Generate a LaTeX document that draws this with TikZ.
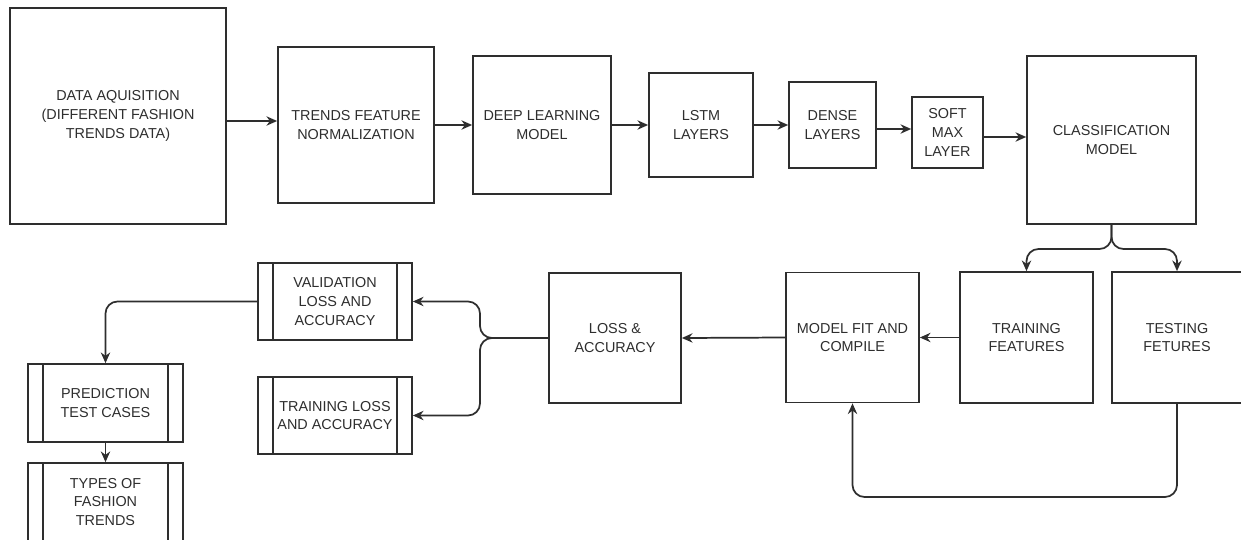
\documentclass[tikz,border=0pt]{standalone}
\usepackage{fontspec}
\setmainfont{Liberation Sans}
\usetikzlibrary{arrows.meta,calc}
\definecolor{ln}{HTML}{2E2E2E}
\tikzset{
  box/.style={draw=ln, line width=1.3pt, inner sep=0pt, align=center, text=ln,
    font=\fontsize{10.8pt}{14pt}\selectfont},
  arr/.style={draw=ln, line width=1.3pt, -{Stealth[length=8pt,width=7pt]}},
  rc/.style={rounded corners=9pt},
}
\begin{document}
\begin{tikzpicture}[x=0.75pt,y=-0.75pt]
\useasboundingbox (0,0) rectangle (1241,539);
\clip (0,0) rectangle (1241,539);
\fill[white] (0,0) rectangle (1241,539);
% top row
\node[box, minimum width=162pt, minimum height=162pt] (d1) at (118,116) {DATA AQUISITION\\(DIFFERENT FASHION\\TRENDS DATA)};
\node[box, minimum width=117pt, minimum height=117pt] (d2) at (356,125) {TRENDS FEATURE\\NORMALIZATION};
\node[box, minimum width=103.5pt, minimum height=103.5pt] (d3) at (542,125) {DEEP LEARNING\\MODEL};
\node[box, minimum width=78pt, minimum height=78pt] (d4) at (701,125) {LSTM\\LAYERS};
\node[box, minimum width=65.2pt, minimum height=64.5pt] (d5) at (832.5,125) {DENSE\\LAYERS};
\node[box, minimum width=53.2pt, minimum height=53.2pt] (d6) at (947.5,132.5) {SOFT\\MAX\\LAYER};
\node[box, minimum width=126.7pt, minimum height=126pt] (d7) at (1111.5,140) {CLASSIFICATION\\MODEL};
% middle row
\node[box, minimum width=99.7pt, minimum height=98.2pt] (tr) at (1026.5,337.5) {TRAINING\\FEATURES};
\node[box, minimum width=97.5pt, minimum height=98.2pt] (te) at (1177,337.5) {TESTING\\FETURES};
\node[box, minimum width=99.7pt, minimum height=97.5pt] (mf) at (852.5,337.5) {MODEL FIT AND\\COMPILE};
\node[box, minimum width=99pt, minimum height=97.5pt] (la) at (615,338) {LOSS \&\\ACCURACY};
% process boxes
\node[box, minimum width=115.5pt, minimum height=57.7pt] (va) at (335,301.5) {VALIDATION\\LOSS AND\\ACCURACY};
\node[box, minimum width=115.5pt, minimum height=57.7pt] (tl) at (335,415.5) {TRAINING LOSS\\AND ACCURACY};
\node[box, minimum width=116.2pt, minimum height=58.5pt] (pr) at (105.5,403) {PREDICTION\\TEST CASES};
\node[box, minimum width=116.2pt, minimum height=58.5pt] (ty) at (105.5,502) {TYPES OF\\FASHION\\TRENDS};
\foreach \n in {va,tl,pr,ty}{
  \draw[ln, line width=1.3pt] ([xshift=12pt]\n.north west) -- ([xshift=12pt]\n.south west);
  \draw[ln, line width=1.3pt] ([xshift=-12pt]\n.north east) -- ([xshift=-12pt]\n.south east);
}
% top connectors
\draw[arr] (d1.east |- 0,121) -- (d2.west |- 0,121);
\draw[arr] (d2.east) -- (d3.west);
\draw[arr] (d3.east) -- (d4.west);
\draw[arr] (d4.east) -- (d5.west);
\draw[arr] (d5.east |- 0,129) -- (d6.west |- 0,129);
\draw[arr] (d6.east |- 0,137) -- (d7.west |- 0,137);
% branch
\draw[arr, rc] (d7.south) -- (d7.south |- 0,249) -- (tr.north |- 0,249) -- (tr.north);
\draw[arr, rc] (d7.south) -- (d7.south |- 0,249) -- (te.north |- 0,249) -- (te.north);
% middle row
\draw[arr] (tr.west) -- (mf.east);
\draw[arr] (mf.west) -- (la.west -| la.east);
\coordinate (bx) at (480,338);
\draw[arr, rc] (la.west) -- (bx) -- (bx |- va.east) -- (va.east);
\draw[arr, rc] (la.west) -- (bx) -- (bx |- tl.east) -- (tl.east);
% loop
\draw[arr, rc] (te.south) -- (te.south |- 0,497) -- (mf.south |- 0,497) -- (mf.south);
% left
\draw[arr, rc] (va.west) -| (pr.north);
\draw[arr] (pr.south) -- (ty.north);
\end{tikzpicture}
\end{document}
